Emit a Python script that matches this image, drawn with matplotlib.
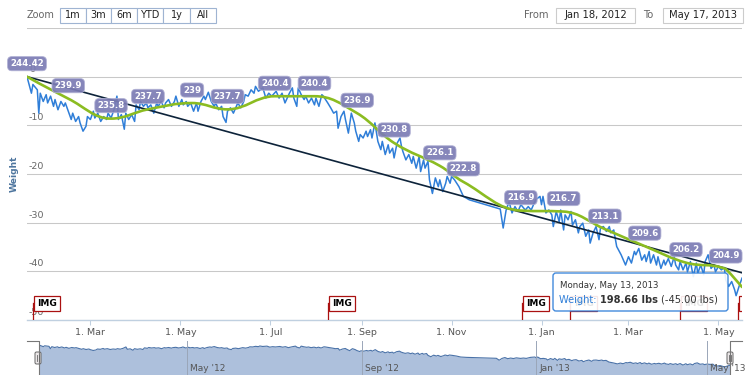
import numpy as np
import matplotlib
matplotlib.use("Agg")
import matplotlib.pyplot as plt
import matplotlib.dates as mdates
from matplotlib.path import Path
from matplotlib.patches import PathPatch, FancyBboxPatch, Rectangle

# range of the chart
start = np.datetime64('2012-01-18')
end = np.datetime64('2013-05-17')
start_weight = 244.42

# weigh-ins: days after Jan 18 2012 and change from the first weight (lbs)
weight_days = [0, 3, 4, 7, 8, 9, 11, 13, 14, 16, 18, 19, 21, 23, 25, 26, 28, 30, 31, 33,
               35, 36, 38, 40, 41, 43, 45, 46, 48, 50, 52, 54, 55, 57, 59, 61, 62, 64, 66, 67,
               69, 71, 73, 74, 76, 77, 79, 81, 82, 84, 86, 88, 89, 91, 93, 94, 96, 98, 100, 101,
               103, 105, 106, 108, 109, 111, 113, 115, 116, 118, 120, 121, 123, 125, 127, 128, 130, 132, 133, 135,
               136, 138, 140, 142, 143, 145, 147, 148, 150, 152, 154, 155, 157, 160,
               162, 164, 166, 169, 171, 173, 175, 178, 180, 181, 183, 184, 186, 188, 189, 191, 193, 195, 196, 198,
               200, 201, 204, 206, 208, 210, 211, 213, 215, 216, 218, 220, 222, 223, 225, 226, 228, 230, 231, 233,
               234, 236, 238, 240, 241, 243, 245, 246, 248, 249, 251, 253, 254, 255, 257, 259, 261, 262, 264, 266,
               267, 269, 270, 272, 273, 275, 277, 279, 280, 282, 284, 285, 287, 288, 290, 293,
               296, 300, 321, 323, 325, 327, 329, 331, 333, 335, 338, 340, 342, 345, 348, 349, 350, 352, 354, 356,
               357, 359, 361, 362, 364, 365, 367, 369, 370, 372, 374, 375, 377, 379, 381, 382, 384, 386, 388, 389,
               391, 393, 395, 396, 398, 400,
               403, 406, 408, 410, 412, 413, 415, 417, 419, 420, 422, 423, 425, 427, 428, 430, 432, 433, 435, 437,
               439, 440, 442, 443, 445, 447, 448, 450, 452, 454, 455, 457, 459, 460, 462, 464, 466, 467, 469, 471,
               473, 474, 476, 478, 480, 481, 483, 485]
weight_change = [0, -3.4, -1.6, -2.7, -7.5, -3.4, -5.1, -3.7, -5.4, -4.0, -6.1, -4.7, -6.8, -5.1, -6.1, -5.4, -7.1, -8.8, -7.5, -9.2,
                 -8.2, -9.5, -11.2, -10.2, -8.2, -8.8, -7.1, -8.5, -7.5, -9.2, -8.2, -8.8, -7.5, -8.5, -6.8, -4.0, -8.8, -7.8, -10.8, -7.5,
                 -8.8, -7.8, -9.2, -5.8, -6.8, -5.1, -6.1, -5.4, -6.4, -5.8, -7.5, -5.4, -6.1, -5.1, -6.4, -5.4, -4.7, -6.1, -5.1, -4.0,
                 -6.1, -4.7, -5.8, -5.1, -6.1, -5.4, -7.1, -5.4, -7.1, -5.1, -4.0, -4.7, -3.2, -5.1, -6.1, -5.4, -6.8, -6.1, -8.2, -9.4,
                 -7.1, -6.4, -7.5, -6.1, -5.4, -6.4, -5.1, -3.7, -4.0, -2.7, -3.4, -2.0, -3.0, -2.3,
                 -4.4, -3.4, -4.0, -3.0, -4.4, -3.4, -5.4, -3.4, -2.3, -4.4, -6.1, -2.3, -3.7, -4.7, -4.0, -5.4, -4.4, -5.8, -4.4, -6.1,
                 -3.7, -4.0, -5.4, -6.4, -7.5, -7.1, -10.6, -8.2, -7.1, -8.8, -11.6, -7.5, -9.5, -11.2, -13.3, -11.9, -12.6, -11.2, -12.3, -10.9,
                 -12.6, -9.5, -13.3, -15.0, -13.3, -16.0, -14.0, -15.7, -14.7, -16.7, -13.7, -12.6, -14.3, -15.4, -17.1, -16.0, -17.8, -16.4, -18.8, -16.4,
                 -19.5, -17.1, -18.8, -17.4, -21.2, -24.0, -20.8, -22.6, -21.2, -23.6, -21.9, -20.5, -21.9, -20.5, -21.2, -22.6,
                 -24.6, -25.3, -27.2, -31.1, -27.4, -25.7, -28.0, -26.7, -27.7, -26.3, -27.4, -26.7, -27.4, -25.3, -24.6, -26.3, -24.6, -28.0, -27.4, -28.4,
                 -30.8, -27.7, -29.8, -27.4, -31.5, -28.4, -29.4, -27.7, -30.5, -29.4, -32.1, -30.8, -30.1, -32.8, -31.5, -34.2, -32.1, -30.8, -33.5, -31.1,
                 -30.8, -31.8, -30.8, -32.1, -31.5, -34.9,
                 -36.6, -38.7, -37.0, -38.3, -35.9, -36.6, -35.3, -37.7, -36.6, -38.0, -35.9, -38.3, -36.6, -38.7, -37.0, -39.4, -37.7, -38.7, -37.4, -39.0,
                 -37.0, -38.7, -39.7, -38.0, -39.7, -38.3, -40.1, -38.0, -41.1, -38.3, -40.4, -38.7, -40.7, -38.0, -36.6, -39.4, -38.7, -40.1, -39.0, -39.7,
                 -39.2, -41.8, -43.1, -42.1, -43.8, -45.0, -43.1, -41.4]

# smoothed curve points (lbs), the last one has no label
smooth_days = [0, 28, 57, 82, 112, 136, 168, 195, 224, 249, 280, 296, 335, 364, 392, 419, 447, 474, 485]
smooth_weights = [244.42, 239.9, 235.8, 237.7, 239, 237.7, 240.4, 240.4, 236.9, 230.8, 226.1, 222.8,
                  216.9, 216.7, 213.1, 209.6, 206.2, 204.9, 201.2]

# straight trend line
trend_days = [0, 485]
trend_change = [0, -40.3]

# IMG flags
flag_days = [4, 204, 336, 368, 443, 482]

tick_dates = ['2012-03-01', '2012-05-01', '2012-07-01', '2012-09-01', '2012-11-01',
              '2013-01-01', '2013-03-01', '2013-05-01']
tick_labels = ['1. Mar', '1. May', '1. Jul', '1. Sep', '1. Nov', '1. Jan', '1. Mar', '1. May']
nav_dates = ['2012-05-01', '2012-09-01', '2013-01-01', '2013-05-01']
nav_labels = ["May '12", "Sep '12", "Jan '13", "May '13"]
y_ticks = [10, 0, -10, -20, -30, -40, -50]
zoom_buttons = ['1m', '3m', '6m', 'YTD', '1y', 'All']


def to_num(days):
    return mdates.date2num(start + np.array(days, dtype='timedelta64[D]'))


def spline_path(xs, ys):
    # highcharts style spline through the points
    n = len(xs)
    left = [None] * n
    right = [None] * n
    for i in range(1, n - 1):
        x0, y0, x, y, x1, y1 = xs[i-1], ys[i-1], xs[i], ys[i], xs[i+1], ys[i+1]
        lx = (1.5 * x + x0) / 2.5
        ly = (1.5 * y + y0) / 2.5
        rx = (1.5 * x + x1) / 2.5
        ry = (1.5 * y + y1) / 2.5
        corr = (ry - ly) * (rx - x) / (rx - lx) + y - ry
        ly += corr
        ry += corr
        if ly > max(y0, y):
            ly = max(y0, y); ry = 2 * y - ly
        elif ly < min(y0, y):
            ly = min(y0, y); ry = 2 * y - ly
        if ry > max(y, y1):
            ry = max(y, y1); ly = 2 * y - ry
        elif ry < min(y, y1):
            ry = min(y, y1); ly = 2 * y - ry
        left[i] = (lx, ly)
        right[i] = (rx, ry)
    verts = [(xs[0], ys[0])]
    codes = [Path.MOVETO]
    for i in range(1, n):
        c1 = right[i-1] if right[i-1] else (xs[i-1], ys[i-1])
        c2 = left[i] if left[i] else (xs[i], ys[i])
        verts += [c1, c2, (xs[i], ys[i])]
        codes += [Path.CURVE4] * 3
    return Path(verts, codes)


W, H = 750, 375
def fbox(l, t, r, b):
    return [l / W, 1 - b / H, (r - l) / W, (b - t) / H]

fig = plt.figure(figsize=(7.5, 3.75), dpi=100)
fig.patch.set_facecolor('white')

# main chart
ax = fig.add_axes(fbox(27, 28, 742, 320))
xw = to_num(weight_days)
xs = to_num(smooth_days)
smooth_change = [w - start_weight for w in smooth_weights]

ax.plot(xw, weight_change, color='#2f7ed8', lw=1.1, zorder=3)
ax.plot(to_num(trend_days), trend_change, color='#0d233a', lw=1.2, zorder=4)
ax.add_patch(PathPatch(spline_path(list(xs), smooth_change), fill=False,
                       ec='#8bbc21', lw=1.9, zorder=5, capstyle='round'))

for x, w in zip(xs[:-1], smooth_weights[:-1]):
    ax.annotate(f'{w:g}', xy=(x, w - start_weight), xytext=(0, 13), textcoords='offset pixels',
                ha='center', va='center', fontsize=6.2, fontweight='bold', color='white',
                bbox=dict(boxstyle='round,pad=0.3,rounding_size=0.5', fc='#7c7cb4',
                          ec='#b0b0d4', lw=0.6, alpha=0.92),
                zorder=7, annotation_clip=False)

ax.set_xlim(mdates.date2num(start), mdates.date2num(end))
ax.set_ylim(-50, 10)
ax.set_yticks(y_ticks)
ax.yaxis.grid(True, color='#c8c8c8', lw=0.75)
ax.set_axisbelow(True)
ax.tick_params(axis='y', length=0, labelleft=False)
for v in y_ticks[1:]:
    ax.annotate(str(v), xy=(0, v), xycoords=('axes fraction', 'data'), xytext=(2, 3),
                textcoords='offset pixels', ha='left', va='bottom', fontsize=6.8,
                color='#666666', zorder=2)

ax.set_xticks(mdates.date2num(np.array(tick_dates, dtype='datetime64[D]')))
ax.set_xticklabels(tick_labels)
ax.tick_params(axis='x', length=3.6, width=0.75, color='#C0D0E0', labelsize=6.8,
               labelcolor='#555555', pad=2.5)
for s in ['top', 'left', 'right']:
    ax.spines[s].set_visible(False)
ax.spines['bottom'].set_color('#C0D0E0')
ax.spines['bottom'].set_linewidth(1)

# flags
for x in to_num(flag_days):
    ax.plot([x, x], [-50, -46.5], color='#aa1111', lw=0.9, zorder=6, clip_on=True)
    ax.annotate('IMG', xy=(x, -50), xytext=(14, 16.5), textcoords='offset pixels',
                ha='center', va='center', fontsize=6.5, fontweight='bold', color='black',
                bbox=dict(boxstyle='square,pad=0.35', fc='white', ec='#aa1111', lw=0.9),
                zorder=6, clip_on=True)

# navigator
nav = fig.add_axes(fbox(39, 341, 730, 375))
nav.fill_between(xw, weight_change, -61.4, color='#adc0dc', lw=0, zorder=2)
nav.plot(xw, weight_change, color='#4a72a8', lw=0.8, zorder=3)
nav.set_xlim(mdates.date2num(start), mdates.date2num(end))
nav.set_ylim(-61.4, 8.2)
nd = mdates.date2num(np.array(nav_dates, dtype='datetime64[D]'))
for x, lbl in zip(nd, nav_labels):
    nav.axvline(x, color='#9aa6b8', lw=0.7, zorder=4)
    nav.annotate(lbl, xy=(x, 0.2), xycoords=('data', 'axes fraction'), xytext=(3, 0),
                 textcoords='offset pixels', ha='left', va='center', fontsize=6.5,
                 color='#555555', zorder=5, annotation_clip=False)
nav.axis('off')

# page furniture: range selector, outline, tooltip
ui = fig.add_axes([0, 0, 1, 1])
ui.set_xlim(0, W)
ui.set_ylim(H, 0)
ui.axis('off')

ui.text(27, 15, 'Zoom', fontsize=7, color='#666666', ha='left', va='center')
edges = [60, 86, 111, 137, 163, 190, 216]
for i, lbl in enumerate(zoom_buttons):
    ui.add_patch(Rectangle((edges[i], 7.5), edges[i+1] - edges[i], 15, fc='white',
                           ec='#9fb4d2', lw=0.8))
    ui.text((edges[i] + edges[i+1]) / 2, 15, lbl, fontsize=7, color='#222222',
            ha='center', va='center')

ui.text(524, 15.5, 'From', fontsize=7.2, color='#666666', ha='left', va='center')
ui.add_patch(Rectangle((556, 7.5), 79, 15, fc='white', ec='#cccccc', lw=0.8))
ui.text(595.5, 15.5, 'Jan 18, 2012', fontsize=7.2, color='#222222', ha='center', va='center')
ui.text(643, 15.5, 'To', fontsize=7.2, color='#666666', ha='left', va='center')
ui.add_patch(Rectangle((663, 7.5), 80, 15, fc='white', ec='#cccccc', lw=0.8))
ui.text(703, 15.5, 'May 17, 2013', fontsize=7.2, color='#222222', ha='center', va='center')

ui.text(14, 174, 'Weight', rotation=90, fontsize=6.6, fontweight='bold', color='#4d759e',
        ha='center', va='center')

# navigator outline and handles
ui.plot([27, 39, 39], [341, 341, 376], color='#777777', lw=0.8)
ui.plot([742, 730, 730], [341, 341, 376], color='#777777', lw=0.8)
for hx in [38, 730]:
    ui.add_patch(FancyBboxPatch((hx - 3, 352), 6, 12, boxstyle='round,pad=0,rounding_size=1.5',
                                fc='#ebe7e8', ec='#666666', lw=0.7))
    ui.plot([hx - 1, hx - 1], [355, 361], color='#666666', lw=0.6)
    ui.plot([hx + 1, hx + 1], [355, 361], color='#666666', lw=0.6)

# tooltip
ui.add_patch(FancyBboxPatch((553, 273), 175, 38, boxstyle='round,pad=0,rounding_size=3',
                            fc='white', ec='#2f7ed8', lw=1, alpha=0.9))
ui.text(560, 286, 'Monday, May 13, 2013', fontsize=6.2, color='#333333', ha='left', va='center')
parts = [('Weight: ', '#2f7ed8', 'normal'), ('198.66 lbs ', '#333333', 'bold'),
         ('(-45.00 lbs)', '#333333', 'normal')]
renderer = fig.canvas.get_renderer()
px = 559
for txt, col, fw in parts:
    t = ui.text(px, 300, txt, fontsize=7.1, color=col, fontweight=fw, ha='left', va='center')
    bb = t.get_window_extent(renderer=renderer)
    px += bb.width * W / fig.bbox.width

fig.savefig('out.png', dpi=100)
